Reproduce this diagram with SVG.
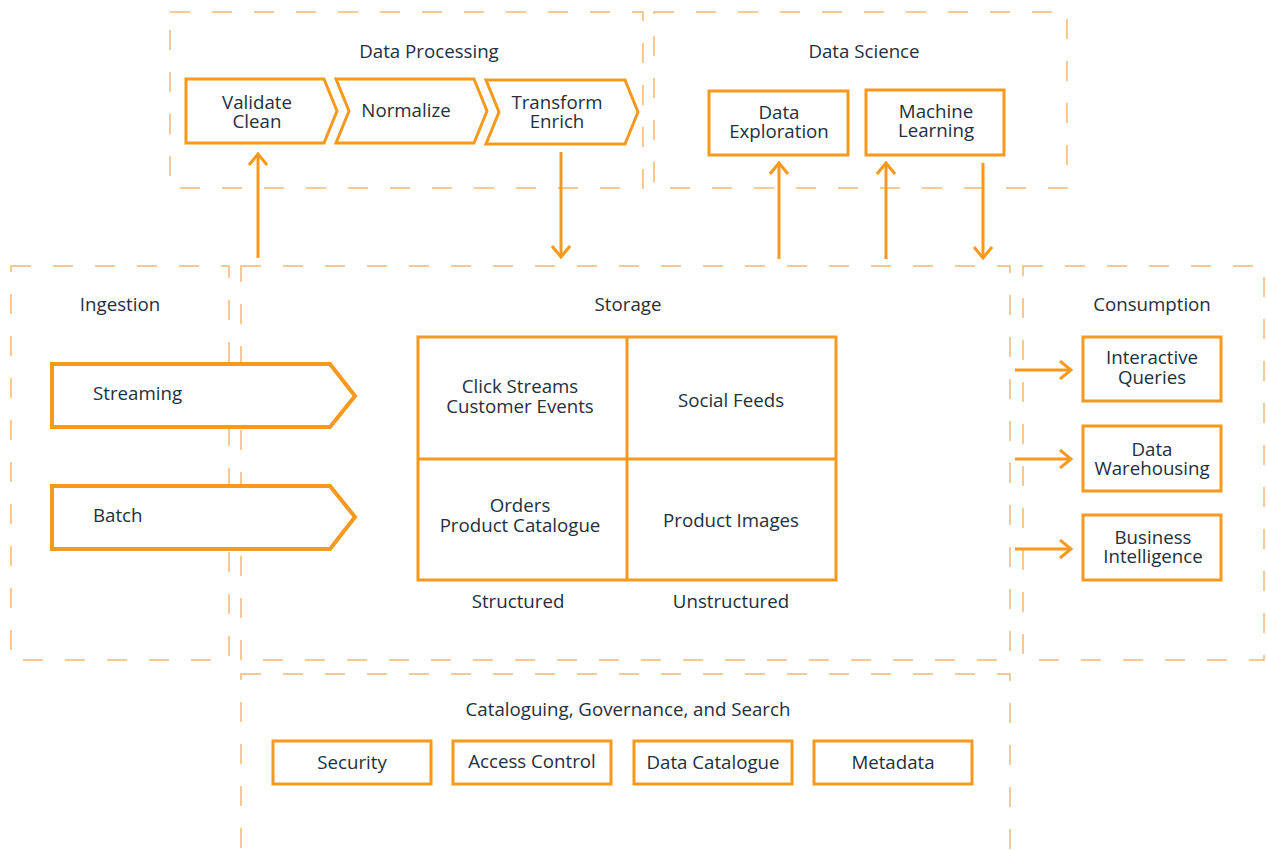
<svg xmlns="http://www.w3.org/2000/svg" width="1266" height="850" viewBox="0 0 1266 850">
  <defs>
    <marker id="arrow" viewBox="0 0 14 20" refX="12" refY="10" markerWidth="14" markerHeight="20" markerUnits="userSpaceOnUse" orient="auto">
      <path d="M1,1 L12,10 L1,19" fill="none" stroke="#F7981F" stroke-width="3"/>
    </marker>
  </defs>
  <style>
    .zone { fill: none; stroke: #F3B772; stroke-width: 1.5; stroke-dasharray: 20 22; }
    .node { fill: #fff; stroke: #F7981F; stroke-width: 3; }
    .thick { stroke-width: 4; }
    .label { font-family: "Open Sans", "Noto Sans", sans-serif; font-size: 18.7px; fill: #232F3E; text-anchor: middle; }
    .title { font-family: "Open Sans", "Noto Sans", sans-serif; font-size: 18.7px; fill: #232F3E; text-anchor: middle; }
    .start { text-anchor: start; }
    .conn { fill: none; stroke: #F7981F; stroke-width: 3; marker-end: url(#arrow); }
    .grid { stroke: #F7981F; stroke-width: 3; }
  </style>
  <rect width="1266" height="850" fill="#fff"/>

  <!-- zones -->
  <g id="zones">
    <rect id="zone-processing" class="zone" x="170" y="12" width="473" height="176"/>
    <rect id="zone-science" class="zone" x="654" y="12" width="413" height="176"/>
    <rect id="zone-ingestion" class="zone" x="11" y="266" width="218" height="394"/>
    <rect id="zone-storage" class="zone" x="241" y="266" width="769" height="394"/>
    <rect id="zone-consumption" class="zone" x="1023" y="266" width="241" height="394"/>
    <rect id="zone-catalogue" class="zone" x="241" y="674" width="769" height="200"/>
    <text class="title" x="429" y="58">Data Processing</text>
    <text class="title" x="864" y="58">Data Science</text>
    <text class="title" x="120" y="311">Ingestion</text>
    <text class="title" x="628" y="311">Storage</text>
    <text class="title" x="1152" y="311">Consumption</text>
    <text class="title" x="628" y="716">Cataloguing, Governance, and Search</text>
  </g>

  <!-- connectors -->
  <g id="connectors">
    <path class="conn" d="M258,258 L258,154"/>
    <path class="conn" d="M561,152 L561,257"/>
    <path class="conn" d="M779,259 L779,163"/>
    <path class="conn" d="M886,259 L886,163"/>
    <path class="conn" d="M983,163 L983,258"/>
    <path class="conn" d="M1015,370 L1071,370"/>
    <path class="conn" d="M1015,459 L1071,459"/>
    <path class="conn" d="M1015,549 L1071,549"/>
  </g>

  <!-- data processing steps -->
  <g id="validate-clean">
    <polygon class="node" points="186,79 324,79 337,111 324,143 186,143"/>
    <text class="label" x="257" y="109">Validate<tspan x="257" dy="19">Clean</tspan></text>
  </g>
  <g id="normalize">
    <polygon class="node" points="336,79 474,79 487,111 474,143 336,143 349,111"/>
    <text class="label" x="406" y="117">Normalize</text>
  </g>
  <g id="transform-enrich">
    <polygon class="node" points="486,80 625,80 638,112 625,144 486,144 499,112"/>
    <text class="label" x="557" y="109">Transform<tspan x="557" dy="19">Enrich</tspan></text>
  </g>

  <!-- data science -->
  <g id="data-exploration">
    <rect class="node" x="709" y="91" width="139" height="64"/>
    <text class="label" x="779" y="119">Data<tspan x="779" dy="19">Exploration</tspan></text>
  </g>
  <g id="machine-learning">
    <rect class="node" x="866" y="90" width="138" height="65"/>
    <text class="label" x="936" y="118">Machine<tspan x="936" dy="19">Learning</tspan></text>
  </g>

  <!-- ingestion -->
  <g id="streaming">
    <polygon class="node thick" points="52,364 330,364 355,396 330,427 52,427"/>
    <text class="label start" x="93" y="400">Streaming</text>
  </g>
  <g id="batch">
    <polygon class="node thick" points="52,486 330,486 355,517 330,549 52,549"/>
    <text class="label start" x="93" y="522">Batch</text>
  </g>

  <!-- storage grid -->
  <g id="storage-grid">
    <rect class="node" x="418" y="337" width="418" height="243"/>
    <line class="grid" x1="627" y1="337" x2="627" y2="580"/>
    <line class="grid" x1="418" y1="459" x2="836" y2="459"/>
    <text class="label" x="520" y="393">Click Streams<tspan x="520" dy="20">Customer Events</tspan></text>
    <text class="label" x="731" y="407">Social Feeds</text>
    <text class="label" x="520" y="512">Orders<tspan x="520" dy="20">Product Catalogue</tspan></text>
    <text class="label" x="731" y="527">Product Images</text>
    <text class="label" x="518" y="608">Structured</text>
    <text class="label" x="731" y="608">Unstructured</text>
  </g>

  <!-- consumption -->
  <g id="interactive-queries">
    <rect class="node" x="1083" y="337" width="138" height="64"/>
    <text class="label" x="1152" y="364">Interactive<tspan x="1152" dy="20">Queries</tspan></text>
  </g>
  <g id="data-warehousing">
    <rect class="node" x="1083" y="426" width="138" height="65"/>
    <text class="label" x="1152" y="456">Data<tspan x="1152" dy="19">Warehousing</tspan></text>
  </g>
  <g id="business-intelligence">
    <rect class="node" x="1083" y="515" width="138" height="65"/>
    <text class="label" x="1153" y="544">Business<tspan x="1153" dy="19">Intelligence</tspan></text>
  </g>

  <!-- cataloguing, governance and search -->
  <g id="security">
    <rect class="node" x="273" y="741" width="158" height="43"/>
    <text class="label" x="352" y="769">Security</text>
  </g>
  <g id="access-control">
    <rect class="node" x="453" y="741" width="158" height="43"/>
    <text class="label" x="532" y="768">Access Control</text>
  </g>
  <g id="data-catalogue">
    <rect class="node" x="634" y="741" width="158" height="43"/>
    <text class="label" x="713" y="769">Data Catalogue</text>
  </g>
  <g id="metadata">
    <rect class="node" x="814" y="741" width="158" height="43"/>
    <text class="label" x="893" y="769">Metadata</text>
  </g>
</svg>
